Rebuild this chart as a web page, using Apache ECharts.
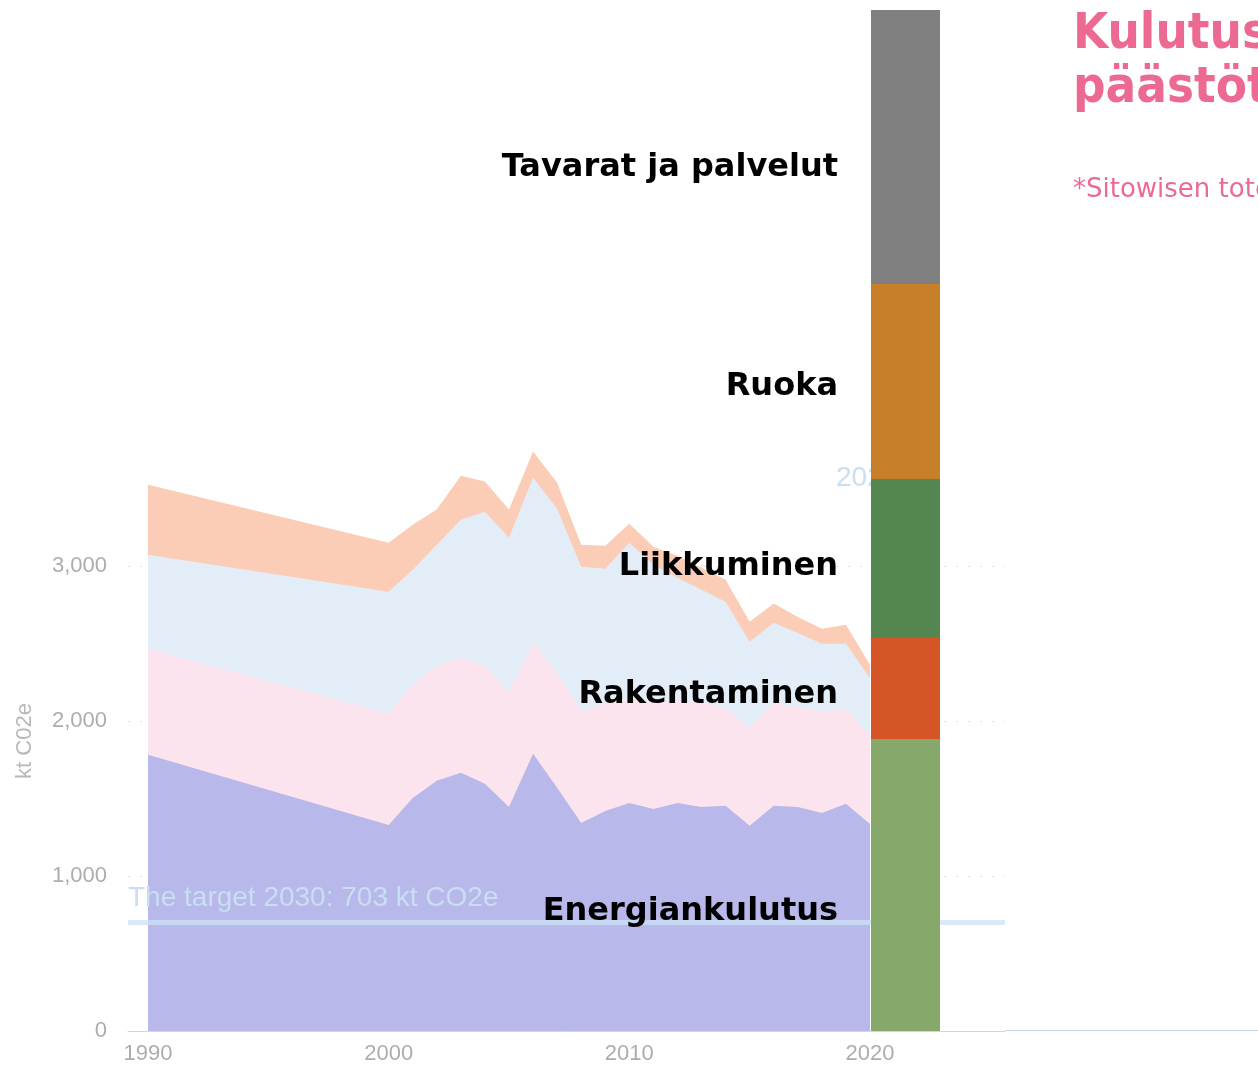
<!DOCTYPE html>
<html>
<head>
<meta charset="utf-8">
<script src="https://cdn.jsdelivr.net/npm/echarts@6/dist/echarts.min.js"></script>
<style>
html,body{margin:0;padding:0;background:#fff;}
#chart{width:1258px;height:1069px;}
</style>
</head>
<body>
<div id="chart"></div>
<script>
// ---- data ----
const years = [1990, 2000, 2001, 2002, 2003, 2004, 2005, 2006, 2007, 2008, 2009, 2010, 2011, 2012, 2013, 2014, 2015, 2016, 2017, 2018, 2019, 2020];
const layer1 = [1781, 1329, 1503, 1613, 1665, 1594, 1445, 1787, 1568, 1342, 1419, 1471, 1432, 1471, 1445, 1452, 1323, 1452, 1445, 1406, 1465, 1335];
const layer2 = [684, 716, 729, 742, 742, 761, 742, 716, 742, 716, 697, 677, 690, 665, 671, 632, 632, 665, 645, 652, 613, 574];
const layer3 = [606, 787, 742, 781, 890, 994, 994, 1065, 1058, 935, 865, 1000, 884, 787, 729, 684, 555, 516, 477, 439, 419, 368];
const layer4 = [452, 316, 290, 226, 284, 194, 181, 168, 168, 142, 148, 123, 116, 142, 142, 142, 129, 123, 103, 97, 123, 84];
const xTickLabels = [1990, 2000, 2010, 2020];
const yTickValues = [0, 1000, 2000, 3000];
const targetValue = 703;
const targetText = 'The target 2030: 703 kt CO2e';
const sideText = '2021';
const barCategories = ['Energiankulutus', 'Rakentaminen', 'Liikkuminen', 'Ruoka', 'Tavarat ja palvelut'];
const barValues = [1884, 658, 1019, 1258, 1768];
const titleLines = ['Kulutusperäiset', 'päästöt'];
const subtitleText = '*Sitowisen toteuttama laskenta';

// ---- styles ----
const areaColors = ['#b8b8ea', '#fbe4ee', '#e3edf8', '#fccdb6'];
const barColors = ['#86a96b', '#d55527', '#548650', '#c77f2a', '#808080'];
const labelOffsets = [[0, 27], [0, 7], [0, 9], [0, 5], [0, 21]];
const layers = [layer1, layer2, layer3, layer4];
const pink = '#ec6a92';

// cumulative (stacked) tops of each layer, computed from the layer arrays
const cumulative = [];
layers.forEach((arr, i) => {
  cumulative.push(arr.map((v, k) => v + (i > 0 ? cumulative[i - 1][k] : 0)));
});

const chart = echarts.init(document.getElementById('chart'));

// draw the highest cumulative area first so lower layers sit on top of it
const areaSeries = [3, 2, 1, 0].map((i, order) => ({
  name: 'layer' + (i + 1),
  type: 'line',
  xAxisIndex: 0,
  yAxisIndex: 0,
  data: years.map((y, k) => [y, cumulative[i][k]]),
  symbol: 'none',
  lineStyle: { width: 0 },
  areaStyle: { color: areaColors[i], opacity: 1, origin: 'start' },
  z: 2 + order * 0.01,
  silent: true
}));

areaSeries[3].markLine = {
  silent: true,
  symbol: 'none',
  lineStyle: { color: 'rgba(205,225,245,0.75)', width: 5, type: 'solid' },
  label: {
    show: true,
    position: 'insideStartTop',
    formatter: targetText,
    color: '#c9def2',
    fontSize: 28,
    fontFamily: 'Liberation Sans, Arial, sans-serif',
    distance: [0, 10]
  },
  data: [{ yAxis: targetValue }]
};

const barSeries = barCategories.map((name, i) => ({
  name: name,
  type: 'bar',
  stack: 'bar',
  xAxisIndex: 1,
  yAxisIndex: 1,
  barWidth: '100%',
  z: 10,
  data: [barValues[i]],
  itemStyle: { color: barColors[i] },
  label: {
    show: true,
    position: 'left',
    distance: 33,
    offset: labelOffsets[i],
    formatter: name,
    color: '#000',
    fontSize: 32,
    fontWeight: 'bold',
    fontFamily: 'DejaVu Sans, Verdana, sans-serif'
  }
}));

const barTotal = barValues.reduce((a, b) => a + b, 0);

chart.setOption({
  animation: false,
  backgroundColor: '#fff',
  grid: [
    { left: 128, right: 253, top: 451, bottom: 38 },
    { left: 871, width: 69, top: 10, bottom: 38 }
  ],
  xAxis: [
    {
      type: 'value',
      gridIndex: 0,
      min: 1989.169,
      max: 2025.61,
      axisLine: { show: true, onZero: false, lineStyle: { color: '#ccd6eb', width: 1 } },
      axisTick: { show: false },
      splitLine: { show: false },
      axisLabel: {
        customValues: xTickLabels,
        color: '#adadad',
        fontSize: 22,
        margin: 12,
        fontFamily: 'Liberation Sans, Arial, sans-serif',
        formatter: v => String(v)
      }
    },
    { type: 'category', gridIndex: 1, data: ['2021'], show: false }
  ],
  yAxis: [
    {
      type: 'value',
      gridIndex: 0,
      min: 0,
      max: 3740,
      interval: 1000,
      name: 'kt C02e',
      nameLocation: 'middle',
      nameRotate: 90,
      nameGap: 92,
      nameTextStyle: { color: '#b8b8b8', fontSize: 22, fontFamily: 'Liberation Sans, Arial, sans-serif' },
      axisLine: { show: false },
      axisTick: { show: false },
      axisLabel: {
        showMaxLabel: false,
        color: '#adadad',
        fontSize: 22,
        margin: 21,
        fontFamily: 'Liberation Sans, Arial, sans-serif',
        formatter: v => (yTickValues.indexOf(v) >= 0 ? v.toLocaleString('en-US') : '')
      },
      splitLine: { show: true, showMaxLine: false, lineStyle: { color: '#e0e0e0', width: 1, type: [2, 10] } }
    },
    { type: 'value', gridIndex: 1, min: 0, max: barTotal, show: false }
  ],
  graphic: [
    {
      type: 'line',
      z: 0,
      shape: { x1: 1005, y1: 1030.5, x2: 1258, y2: 1030.5 },
      style: { stroke: '#ccd6eb', lineWidth: 1 }
    },
    {
      type: 'text',
      z: 1,
      x: 836,
      y: 478,
      style: { text: sideText, fill: '#c8def3', font: '28px "Liberation Sans", Arial, sans-serif', verticalAlign: 'middle' }
    },
    {
      type: 'text',
      z: 20,
      x: 1073,
      y: 35,
      scaleX: 0.91,
      style: { text: titleLines[0], fill: pink, font: 'bold 50px "DejaVu Sans", Verdana, sans-serif', verticalAlign: 'middle' }
    },
    {
      type: 'text',
      z: 20,
      x: 1073,
      y: 89,
      scaleX: 0.91,
      style: { text: titleLines[1], fill: pink, font: 'bold 50px "DejaVu Sans", Verdana, sans-serif', verticalAlign: 'middle' }
    },
    {
      type: 'text',
      z: 20,
      x: 1073,
      y: 190,
      style: { text: subtitleText, fill: pink, font: '26px "DejaVu Sans", Verdana, sans-serif', verticalAlign: 'middle' }
    }
  ],
  series: [...areaSeries, ...barSeries]
});
</script>
</body>
</html>
